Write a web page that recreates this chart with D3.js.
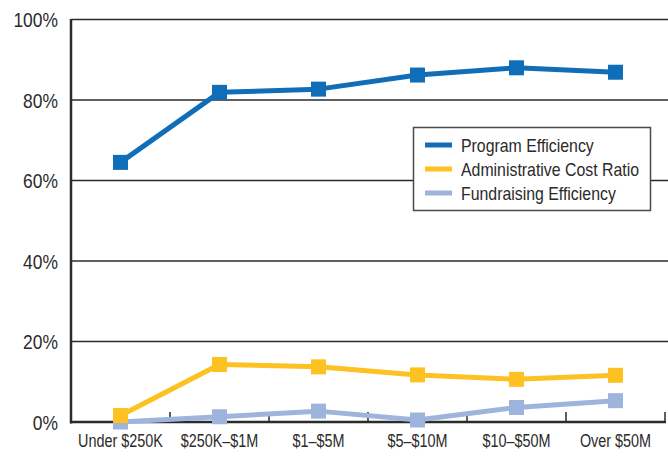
<!DOCTYPE html>
<html><head><meta charset="utf-8">
<script src="https://cdn.jsdelivr.net/npm/d3@7"></script>
<style>
html,body{margin:0;padding:0;background:#fff;}
svg text{font-family:"Liberation Sans Narrow","Arial Narrow","Liberation Sans",sans-serif;fill:#2b2b2b;}
</style></head>
<body><div id="chart"></div>
<script>
const categories = ["Under $250K","$250K\u2013$1M","$1\u2013$5M","$5\u2013$10M","$10\u2013$50M","Over $50M"];
const programEfficiency = [64.5, 81.9, 82.7, 86.2, 88.0, 86.9];
const adminCostRatio = [1.6, 14.3, 13.7, 11.7, 10.6, 11.6];
const fundraisingEfficiency = [0.0, 1.3, 2.7, 0.5, 3.6, 5.3];
const yTicks = [0, 20, 40, 60, 80, 100];
const seriesNames = ["Program Efficiency","Administrative Cost Ratio","Fundraising Efficiency"];
const seriesColors = ["#106db8","#fdc122","#9fb4dd"];

const W = 668, H = 464;
const m = {left:71, right:3, top:19.5, bottom:42};
const svg = d3.select("#chart").append("svg").attr("width",W).attr("height",H);

const x = d3.scaleBand().domain(categories).range([m.left, 665]).padding(0);
const y = d3.scaleLinear().domain([0,100]).range([H-m.bottom, m.top]);

function condense(sel, f){
  sel.each(function(){
    const len = this.getComputedTextLength();
    d3.select(this).attr("textLength", len*f).attr("lengthAdjust","spacingAndGlyphs");
  });
}

// gridlines
svg.append("g").selectAll("line").data(yTicks.filter(d=>d>0)).join("line")
  .attr("x1", m.left).attr("x2", W).attr("y1", d=>y(d)).attr("y2", d=>y(d))
  .attr("stroke","#2b2b2b").attr("stroke-width",1.3);

// y labels
svg.append("g").selectAll("text").data(yTicks).join("text")
  .attr("x", 58).attr("y", d=>y(d)).attr("dy","0.36em")
  .attr("text-anchor","end").attr("font-size",21)
  .text(d=>d+"%").call(condense, 0.83);

// x ticks (category boundaries, upward)
svg.append("g").selectAll("line").data(categories).join("line")
  .attr("x1", d=>x(d)+x.bandwidth()).attr("x2", d=>x(d)+x.bandwidth())
  .attr("y1", y(0)).attr("y2", y(0)-10)
  .attr("stroke","#2b2b2b").attr("stroke-width",1.5);

// x labels
svg.append("g").selectAll("text").data(categories).join("text")
  .attr("x", d=>x(d)+x.bandwidth()/2).attr("y", 447)
  .attr("text-anchor","middle").attr("font-size",18)
  .text(d=>d).call(condense, 0.8);

// axes lines
svg.append("line").attr("x1",m.left).attr("x2",m.left).attr("y1",y(100)-0.5).attr("y2",y(0)+1.5)
  .attr("stroke","#2b2b2b").attr("stroke-width",2.5);
svg.append("line").attr("x1",m.left-1).attr("x2",666).attr("y1",y(0)).attr("y2",y(0))
  .attr("stroke","#2b2b2b").attr("stroke-width",2.5);

// series
const series = [programEfficiency, adminCostRatio, fundraisingEfficiency];
const line = d3.line().x((d,i)=>x(categories[i])+x.bandwidth()/2).y(d=>y(d));
const order = [2,1,0];
order.forEach(k=>{
  const g = svg.append("g");
  g.append("path").datum(series[k]).attr("d", line).attr("fill","none")
    .attr("stroke", seriesColors[k]).attr("stroke-width",5).attr("stroke-linejoin","round");
  const s = 15;
  g.selectAll("rect").data(series[k]).join("rect")
    .attr("x",(d,i)=>x(categories[i])+x.bandwidth()/2-s/2)
    .attr("y",d=>y(d)-s/2).attr("width",s).attr("height",s)
    .attr("fill",seriesColors[k]);
});

// legend
const lg = svg.append("g");
lg.append("rect").attr("x",413.5).attr("y",127.5).attr("width",237).attr("height",83)
  .attr("fill","#fff").attr("stroke","#4a4a4a").attr("stroke-width",1.5);
seriesNames.forEach((n,i)=>{
  const yy = 145 + i*24;
  lg.append("line").attr("x1",425).attr("x2",452).attr("y1",yy).attr("y2",yy)
    .attr("stroke",seriesColors[i]).attr("stroke-width",5);
  lg.append("text").attr("x",461).attr("y",yy).attr("dy","0.36em")
    .attr("font-size",18.5).text(n).call(condense, 0.857);
});
</script></body></html>
